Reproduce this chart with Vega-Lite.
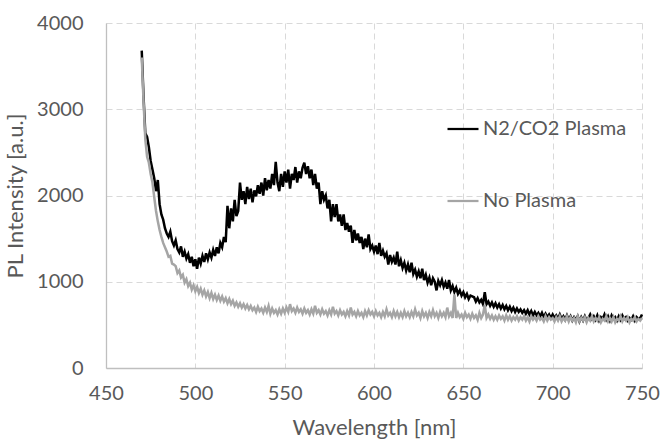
{
  "$schema": "https://vega.github.io/schema/vega-lite/v6.json",
  "autosize": "none",
  "width": 536,
  "height": 345,
  "padding": {"left": 106, "top": 23, "right": 19, "bottom": 73},
  "background": "white",
  "config": {
    "view": {"stroke": null},
    "font": "Lato",
    "axis": {
      "labelFont": "Lato", "titleFont": "Lato", "labelColor": "#595959", "titleColor": "#595959",
      "labelFontSize": 20, "titleFontSize": 22, "titleFontWeight": "normal",
      "gridColor": "#d9d9d9", "gridDash": [6, 4], "gridWidth": 1,
      "domainColor": "#bfbfbf", "domainWidth": 1.3, "ticks": false
    },
    "legend": {"labelFont": "Lato", "labelFontSize": 20, "labelColor": "#595959"}
  },
  "data": {"values": [
    {"nm":470,"plasma":3680,"noplasma":3600},{"nm":471,"plasma":3150,"noplasma":3100},{"nm":472,"plasma":2720,"noplasma":2650},{"nm":473,"plasma":2680,"noplasma":2450},{"nm":474,"plasma":2560,"noplasma":2380},{"nm":475,"plasma":2400,"noplasma":2250},{"nm":476,"plasma":2300,"noplasma":2150},{"nm":477,"plasma":2200,"noplasma":1980},{"nm":478,"plasma":2050,"noplasma":1820},{"nm":479,"plasma":2180,"noplasma":1700},
    {"nm":480,"plasma":1900,"noplasma":1600},{"nm":481,"plasma":1780,"noplasma":1520},{"nm":482,"plasma":1720,"noplasma":1450},{"nm":483,"plasma":1620,"noplasma":1400},{"nm":484,"plasma":1560,"noplasma":1350},{"nm":485,"plasma":1520,"noplasma":1290},{"nm":486,"plasma":1580,"noplasma":1300},{"nm":487,"plasma":1470,"noplasma":1210},{"nm":488,"plasma":1420,"noplasma":1200},{"nm":489,"plasma":1480,"noplasma":1180},
    {"nm":490,"plasma":1380,"noplasma":1100},{"nm":491,"plasma":1340,"noplasma":1130},{"nm":492,"plasma":1410,"noplasma":1050},{"nm":493,"plasma":1290,"noplasma":1080},{"nm":494,"plasma":1350,"noplasma":990},{"nm":495,"plasma":1270,"noplasma":1030},{"nm":496,"plasma":1320,"noplasma":950},{"nm":497,"plasma":1220,"noplasma":990},{"nm":498,"plasma":1290,"noplasma":910},{"nm":499,"plasma":1180,"noplasma":960},
    {"nm":500,"plasma":1260,"noplasma":890},{"nm":501,"plasma":1150,"noplasma":940},{"nm":502,"plasma":1280,"noplasma":870},{"nm":503,"plasma":1210,"noplasma":920},{"nm":504,"plasma":1300,"noplasma":850},{"nm":505,"plasma":1230,"noplasma":900},{"nm":506,"plasma":1330,"noplasma":830},{"nm":507,"plasma":1260,"noplasma":880},{"nm":508,"plasma":1340,"noplasma":810},{"nm":509,"plasma":1280,"noplasma":870},
    {"nm":510,"plasma":1370,"noplasma":800},{"nm":511,"plasma":1300,"noplasma":850},{"nm":512,"plasma":1400,"noplasma":790},{"nm":513,"plasma":1330,"noplasma":840},{"nm":514,"plasma":1450,"noplasma":780},{"nm":515,"plasma":1400,"noplasma":830},{"nm":516,"plasma":1520,"noplasma":770},{"nm":517,"plasma":1460,"noplasma":810},{"nm":518,"plasma":1880,"noplasma":750},{"nm":519,"plasma":1620,"noplasma":800},
    {"nm":520,"plasma":1850,"noplasma":740},{"nm":521,"plasma":1700,"noplasma":780},{"nm":522,"plasma":1950,"noplasma":720},{"nm":523,"plasma":1760,"noplasma":760},{"nm":524,"plasma":1820,"noplasma":710},{"nm":525,"plasma":2150,"noplasma":750},{"nm":526,"plasma":1950,"noplasma":700},{"nm":527,"plasma":2050,"noplasma":740},{"nm":528,"plasma":1900,"noplasma":690},{"nm":529,"plasma":2100,"noplasma":730},
    {"nm":530,"plasma":1960,"noplasma":680},{"nm":531,"plasma":2080,"noplasma":720},{"nm":532,"plasma":1920,"noplasma":670},{"nm":533,"plasma":2060,"noplasma":700},{"nm":534,"plasma":1990,"noplasma":650},{"nm":535,"plasma":2120,"noplasma":710},{"nm":536,"plasma":2020,"noplasma":660},{"nm":537,"plasma":2150,"noplasma":690},{"nm":538,"plasma":2000,"noplasma":640},{"nm":539,"plasma":2200,"noplasma":700},
    {"nm":540,"plasma":2060,"noplasma":650},{"nm":541,"plasma":2180,"noplasma":720},{"nm":542,"plasma":2080,"noplasma":630},{"nm":543,"plasma":2250,"noplasma":690},{"nm":544,"plasma":2120,"noplasma":640},{"nm":545,"plasma":2390,"noplasma":670},{"nm":546,"plasma":2150,"noplasma":620},{"nm":547,"plasma":2050,"noplasma":680},{"nm":548,"plasma":2250,"noplasma":630},{"nm":549,"plasma":2100,"noplasma":690},
    {"nm":550,"plasma":2280,"noplasma":640},{"nm":551,"plasma":2150,"noplasma":700},{"nm":552,"plasma":2300,"noplasma":650},{"nm":553,"plasma":2080,"noplasma":740},{"nm":554,"plasma":2250,"noplasma":660},{"nm":555,"plasma":2180,"noplasma":690},{"nm":556,"plasma":2330,"noplasma":640},{"nm":557,"plasma":2150,"noplasma":700},{"nm":558,"plasma":2280,"noplasma":650},{"nm":559,"plasma":2200,"noplasma":680},
    {"nm":560,"plasma":2320,"noplasma":630},{"nm":561,"plasma":2380,"noplasma":690},{"nm":562,"plasma":2250,"noplasma":640},{"nm":563,"plasma":2340,"noplasma":670},{"nm":564,"plasma":2200,"noplasma":620},{"nm":565,"plasma":2300,"noplasma":680},{"nm":566,"plasma":2120,"noplasma":630},{"nm":567,"plasma":2250,"noplasma":720},{"nm":568,"plasma":2080,"noplasma":640},{"nm":569,"plasma":2150,"noplasma":670},
    {"nm":570,"plasma":1900,"noplasma":620},{"nm":571,"plasma":2050,"noplasma":680},{"nm":572,"plasma":1950,"noplasma":630},{"nm":573,"plasma":2000,"noplasma":660},{"nm":574,"plasma":1850,"noplasma":610},{"nm":575,"plasma":1950,"noplasma":670},{"nm":576,"plasma":1700,"noplasma":620},{"nm":577,"plasma":1900,"noplasma":710},{"nm":578,"plasma":1750,"noplasma":630},{"nm":579,"plasma":1900,"noplasma":660},
    {"nm":580,"plasma":1700,"noplasma":610},{"nm":581,"plasma":1780,"noplasma":670},{"nm":582,"plasma":1650,"noplasma":620},{"nm":583,"plasma":1780,"noplasma":650},{"nm":584,"plasma":1600,"noplasma":600},{"nm":585,"plasma":1680,"noplasma":660},{"nm":586,"plasma":1580,"noplasma":610},{"nm":587,"plasma":1650,"noplasma":700},{"nm":588,"plasma":1450,"noplasma":620},{"nm":589,"plasma":1600,"noplasma":650},
    {"nm":590,"plasma":1480,"noplasma":600},{"nm":591,"plasma":1560,"noplasma":660},{"nm":592,"plasma":1450,"noplasma":610},{"nm":593,"plasma":1520,"noplasma":640},{"nm":594,"plasma":1380,"noplasma":590},{"nm":595,"plasma":1500,"noplasma":660},{"nm":596,"plasma":1400,"noplasma":610},{"nm":597,"plasma":1550,"noplasma":670},{"nm":598,"plasma":1380,"noplasma":620},{"nm":599,"plasma":1420,"noplasma":650},
    {"nm":600,"plasma":1350,"noplasma":600},{"nm":601,"plasma":1420,"noplasma":660},{"nm":602,"plasma":1320,"noplasma":610},{"nm":603,"plasma":1450,"noplasma":640},{"nm":604,"plasma":1300,"noplasma":590},{"nm":605,"plasma":1360,"noplasma":650},{"nm":606,"plasma":1290,"noplasma":600},{"nm":607,"plasma":1330,"noplasma":680},{"nm":608,"plasma":1200,"noplasma":610},{"nm":609,"plasma":1310,"noplasma":640},
    {"nm":610,"plasma":1230,"noplasma":590},{"nm":611,"plasma":1280,"noplasma":660},{"nm":612,"plasma":1200,"noplasma":600},{"nm":613,"plasma":1350,"noplasma":650},{"nm":614,"plasma":1180,"noplasma":590},{"nm":615,"plasma":1250,"noplasma":640},{"nm":616,"plasma":1160,"noplasma":590},{"nm":617,"plasma":1220,"noplasma":660},{"nm":618,"plasma":1130,"noplasma":600},{"nm":619,"plasma":1200,"noplasma":640},
    {"nm":620,"plasma":1110,"noplasma":590},{"nm":621,"plasma":1220,"noplasma":650},{"nm":622,"plasma":1090,"noplasma":600},{"nm":623,"plasma":1140,"noplasma":680},{"nm":624,"plasma":1060,"noplasma":610},{"nm":625,"plasma":1120,"noplasma":640},{"nm":626,"plasma":1040,"noplasma":580},{"nm":627,"plasma":1150,"noplasma":660},{"nm":628,"plasma":1020,"noplasma":600},{"nm":629,"plasma":1080,"noplasma":640},
    {"nm":630,"plasma":990,"noplasma":580},{"nm":631,"plasma":1050,"noplasma":650},{"nm":632,"plasma":960,"noplasma":600},{"nm":633,"plasma":1040,"noplasma":670},{"nm":634,"plasma":1000,"noplasma":600},{"nm":635,"plasma":900,"noplasma":640},{"nm":636,"plasma":1010,"noplasma":580},{"nm":637,"plasma":960,"noplasma":650},{"nm":638,"plasma":1020,"noplasma":600},{"nm":639,"plasma":940,"noplasma":640},
    {"nm":640,"plasma":990,"noplasma":590},{"nm":641,"plasma":920,"noplasma":700},{"nm":642,"plasma":1020,"noplasma":600},{"nm":643,"plasma":900,"noplasma":640},{"nm":644,"plasma":950,"noplasma":580},{"nm":645,"plasma":880,"noplasma":850},{"nm":646,"plasma":930,"noplasma":580},{"nm":647,"plasma":860,"noplasma":640},{"nm":648,"plasma":900,"noplasma":590},{"nm":649,"plasma":840,"noplasma":620},
    {"nm":650,"plasma":880,"noplasma":570},{"nm":651,"plasma":820,"noplasma":640},{"nm":652,"plasma":860,"noplasma":590},{"nm":653,"plasma":800,"noplasma":620},{"nm":654,"plasma":840,"noplasma":570},{"nm":655,"plasma":830,"noplasma":630},{"nm":656,"plasma":820,"noplasma":580},{"nm":657,"plasma":770,"noplasma":610},{"nm":658,"plasma":810,"noplasma":560},{"nm":659,"plasma":760,"noplasma":640},
    {"nm":660,"plasma":790,"noplasma":580},{"nm":661,"plasma":740,"noplasma":620},{"nm":662,"plasma":880,"noplasma":730},{"nm":663,"plasma":740,"noplasma":580},{"nm":664,"plasma":770,"noplasma":620},{"nm":665,"plasma":720,"noplasma":570},{"nm":666,"plasma":760,"noplasma":610},{"nm":667,"plasma":710,"noplasma":560},{"nm":668,"plasma":750,"noplasma":600},{"nm":669,"plasma":700,"noplasma":560},
    {"nm":670,"plasma":740,"noplasma":610},{"nm":671,"plasma":690,"noplasma":570},{"nm":672,"plasma":730,"noplasma":600},{"nm":673,"plasma":680,"noplasma":550},{"nm":674,"plasma":720,"noplasma":610},{"nm":675,"plasma":670,"noplasma":560},{"nm":676,"plasma":710,"noplasma":600},{"nm":677,"plasma":660,"noplasma":550},{"nm":678,"plasma":700,"noplasma":590},{"nm":679,"plasma":650,"noplasma":560},
    {"nm":680,"plasma":690,"noplasma":600},{"nm":681,"plasma":650,"noplasma":550},{"nm":682,"plasma":680,"noplasma":590},{"nm":683,"plasma":640,"noplasma":560},{"nm":684,"plasma":670,"noplasma":600},{"nm":685,"plasma":630,"noplasma":550},{"nm":686,"plasma":670,"noplasma":590},{"nm":687,"plasma":620,"noplasma":540},{"nm":688,"plasma":660,"noplasma":600},{"nm":689,"plasma":610,"noplasma":560},
    {"nm":690,"plasma":650,"noplasma":590},{"nm":691,"plasma":610,"noplasma":550},{"nm":692,"plasma":640,"noplasma":600},{"nm":693,"plasma":600,"noplasma":560},{"nm":694,"plasma":640,"noplasma":580},{"nm":695,"plasma":590,"noplasma":540},{"nm":696,"plasma":630,"noplasma":600},{"nm":697,"plasma":590,"noplasma":550},{"nm":698,"plasma":620,"noplasma":590},{"nm":699,"plasma":580,"noplasma":560},
    {"nm":700,"plasma":620,"noplasma":580},{"nm":701,"plasma":580,"noplasma":540},{"nm":702,"plasma":610,"noplasma":590},{"nm":703,"plasma":570,"noplasma":550},{"nm":704,"plasma":620,"noplasma":600},{"nm":705,"plasma":570,"noplasma":540},{"nm":706,"plasma":600,"noplasma":580},{"nm":707,"plasma":560,"noplasma":550},{"nm":708,"plasma":610,"noplasma":600},{"nm":709,"plasma":560,"noplasma":540},
    {"nm":710,"plasma":600,"noplasma":590},{"nm":711,"plasma":550,"noplasma":550},{"nm":712,"plasma":590,"noplasma":580},{"nm":713,"plasma":560,"noplasma":530},{"nm":714,"plasma":600,"noplasma":600},{"nm":715,"plasma":540,"noplasma":540},{"nm":716,"plasma":590,"noplasma":580},{"nm":717,"plasma":550,"noplasma":550},{"nm":718,"plasma":600,"noplasma":590},{"nm":719,"plasma":550,"noplasma":530},
    {"nm":720,"plasma":580,"noplasma":580},{"nm":721,"plasma":620,"noplasma":550},{"nm":722,"plasma":570,"noplasma":600},{"nm":723,"plasma":600,"noplasma":540},{"nm":724,"plasma":560,"noplasma":580},{"nm":725,"plasma":610,"noplasma":550},{"nm":726,"plasma":550,"noplasma":590},{"nm":727,"plasma":590,"noplasma":530},{"nm":728,"plasma":570,"noplasma":570},{"nm":729,"plasma":620,"noplasma":550},
    {"nm":730,"plasma":560,"noplasma":600},{"nm":731,"plasma":600,"noplasma":540},{"nm":732,"plasma":550,"noplasma":580},{"nm":733,"plasma":610,"noplasma":540},{"nm":734,"plasma":570,"noplasma":590},{"nm":735,"plasma":590,"noplasma":530},{"nm":736,"plasma":550,"noplasma":570},{"nm":737,"plasma":600,"noplasma":550},{"nm":738,"plasma":560,"noplasma":600},{"nm":739,"plasma":610,"noplasma":540},
    {"nm":740,"plasma":570,"noplasma":580},{"nm":741,"plasma":590,"noplasma":550},{"nm":742,"plasma":550,"noplasma":590},{"nm":743,"plasma":580,"noplasma":530},{"nm":744,"plasma":560,"noplasma":570},{"nm":745,"plasma":600,"noplasma":550},{"nm":746,"plasma":550,"noplasma":590},{"nm":747,"plasma":590,"noplasma":540},{"nm":748,"plasma":570,"noplasma":570},{"nm":749,"plasma":580,"noplasma":550},
    {"nm":750,"plasma":620,"noplasma":580}
  ]},
  "encoding": {
    "x": {
      "field": "nm", "type": "quantitative",
      "scale": {"domain": [450, 750], "nice": false, "zero": false},
      "axis": {"title": "Wavelength [nm]", "values": [450, 500, 550, 600, 650, 700, 750], "format": "d", "labelPadding": 15, "titlePadding": 14, "labelOverlap": false, "labelBound": false, "labelFlush": false, "grid": true}
    }
  },
  "layer": [
    {
      "mark": {"type": "line", "strokeWidth": 2.5, "interpolate": "linear"},
      "encoding": {
        "y": {
          "field": "plasma", "type": "quantitative",
          "scale": {"domain": [0, 4000], "nice": false},
          "axis": {"title": "PL Intensity [a.u.]", "values": [0, 1000, 2000, 3000, 4000], "format": "d", "labelPadding": 23, "titlePadding": 9, "grid": true}
        },
        "color": {
          "datum": "N2/CO2 Plasma", "type": "nominal",
          "scale": {"domain": ["N2/CO2 Plasma", "No Plasma"], "range": ["#000000", "#a5a5a5"]},
          "legend": {
            "title": null, "orient": "none", "legendX": 340, "legendY": 89,
            "symbolType": "stroke", "symbolSize": 961, "symbolStrokeWidth": 2.25,
            "labelOffset": 3, "rowPadding": 45, "labelLimit": 300
          }
        }
      }
    },
    {
      "mark": {"type": "line", "strokeWidth": 2.5, "interpolate": "linear"},
      "encoding": {
        "y": {"field": "noplasma", "type": "quantitative"},
        "color": {"datum": "No Plasma", "type": "nominal"}
      }
    }
  ]
}
